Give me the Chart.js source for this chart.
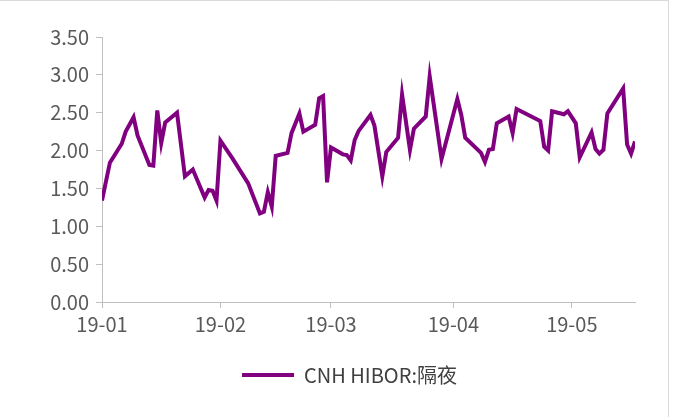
<!DOCTYPE html>
<html>
<head>
<meta charset="utf-8">
<script src="https://cdn.jsdelivr.net/npm/chart.js@4/dist/chart.umd.min.js"></script>
<style>
  html, body { margin: 0; padding: 0; background: #fff; }
  canvas { display: block; }
</style>
</head>
<body>
<canvas id="hibor" width="673" height="417"></canvas>
<script>
// CNH HIBOR overnight fixing, 2019 trading days (MM-DD)
const dates = [
  '01-02','01-04','01-07','01-08','01-10','01-11','01-14','01-15','01-16','01-17',
  '01-18','01-21','01-23','01-25','01-28','01-29','01-30','01-31','02-01','02-04',
  '02-08','02-11','02-12','02-13','02-14','02-15','02-18','02-19','02-21','02-22',
  '02-25','02-26','02-27','02-28','03-01','03-04','03-05','03-06','03-07','03-08',
  '03-11','03-12','03-14','03-15','03-18','03-19','03-21','03-22','03-25','03-26',
  '03-29','04-02','04-03','04-04','04-08','04-09','04-10','04-11','04-12','04-15',
  '04-16','04-17','04-23','04-24','04-25','04-26','04-29','04-30','05-02','05-03',
  '05-06','05-07','05-08','05-09','05-10','05-14','05-15','05-16','05-17'
];
const overnight = [
  1.34, 1.84, 2.09, 2.25, 2.44, 2.20, 1.81, 1.80, 2.53, 2.10,
  2.37, 2.50, 1.66, 1.75, 1.38, 1.48, 1.47, 1.34, 2.13, 1.90,
  1.57, 1.17, 1.19, 1.45, 1.26, 1.93, 1.97, 2.23, 2.49, 2.25,
  2.34, 2.69, 2.72, 1.58, 2.04, 1.95, 1.94, 1.87, 2.14, 2.26,
  2.47, 2.33, 1.66, 1.98, 2.17, 2.74, 2.01, 2.29, 2.45, 2.98,
  1.89, 2.68, 2.47, 2.17, 1.97, 1.85, 2.01, 2.02, 2.36, 2.45,
  2.23, 2.55, 2.39, 2.05, 2.00, 2.52, 2.48, 2.52, 2.36, 1.91,
  2.24, 2.02, 1.96, 2.01, 2.49, 2.82, 2.08, 1.96, 2.12
];
const monthTicks = ['01-02', '02-01', '03-01', '04-01', '05-01'];
const yTicks = [0, 0.5, 1, 1.5, 2, 2.5, 3, 3.5];

// day number within 2019 (Jan 1 = 0)
function dayOf(md) {
  const [m, d] = md.split('-').map(Number);
  return (Date.UTC(2019, m - 1, d) - Date.UTC(2019, 0, 1)) / 86400000;
}
function labelOf(day) {
  const dt = new Date(Date.UTC(2019, 0, 1) + day * 86400000);
  return '19-' + String(dt.getUTCMonth() + 1).padStart(2, '0');
}

const AXIS = '#bfbfbf';
const TEXT = '#595959';
const FONT = '"Noto Sans CJK SC", "Noto Sans", sans-serif';

// thin frame along the top and right edge of the chart box;
// legend sits a little right of centre
const frame = {
  id: 'frame',
  afterLayout(chart) {
    chart.legend.left += 21;
    chart.legend.right += 21;
  },
  beforeDraw(chart) {
    const ctx = chart.ctx;
    ctx.save();
    ctx.strokeStyle = '#d9d9d9';
    ctx.lineWidth = 1;
    ctx.beginPath();
    ctx.moveTo(0, 0.5);
    ctx.lineTo(668.5, 0.5);
    ctx.lineTo(668.5, chart.height);
    ctx.stroke();
    ctx.restore();
  }
};

new Chart(document.getElementById('hibor'), {
  type: 'line',
  data: {
    datasets: [{
      label: 'CNH HIBOR:隔夜',
      data: dates.map((d, i) => ({ x: dayOf(d), y: overnight[i] })),
      borderColor: '#800080',
      backgroundColor: '#800080',
      borderWidth: 4,
      pointRadius: 0,
      tension: 0,
      borderJoinStyle: 'miter'
    }]
  },
  options: {
    responsive: false,
    animation: false,
    layout: { padding: { left: 22, right: 38, top: 37, bottom: 22 } },
    plugins: {
      tooltip: { enabled: false },
      legend: {
        position: 'bottom',
        labels: {
          usePointStyle: true,
          pointStyle: 'line',
          pointStyleWidth: 52,
          color: '#404040',
          padding: 10,
          font: { family: FONT, size: 20 }
        }
      }
    },
    scales: {
      x: {
        type: 'linear',
        min: dayOf(dates[0]),
        max: dayOf(dates[dates.length - 1]),
        afterBuildTicks: s => { s.ticks = monthTicks.map(m => ({ value: dayOf(m) })); },
        afterFit: s => { s.height = 53; },
        grid: { drawOnChartArea: false, drawTicks: true, tickLength: 6, color: AXIS },
        border: { display: true, color: AXIS, width: 1 },
        ticks: {
          autoSkip: false,
          maxRotation: 0,
          padding: 4,
          color: TEXT,
          font: { family: FONT, size: 20 },
          callback: v => labelOf(v)
        }
      },
      y: {
        min: 0,
        max: 3.5,
        afterBuildTicks: s => { s.ticks = yTicks.map(v => ({ value: v })); },
        afterFit: s => { s.width = 80; },
        grid: { drawOnChartArea: false, drawTicks: true, tickLength: 6, color: AXIS },
        border: { display: true, color: AXIS, width: 1 },
        ticks: {
          padding: 7,
          color: TEXT,
          font: { family: FONT, size: 20 },
          callback: v => Number(v).toFixed(2)
        }
      }
    }
  },
  plugins: [frame]
});
</script>
</body>
</html>
